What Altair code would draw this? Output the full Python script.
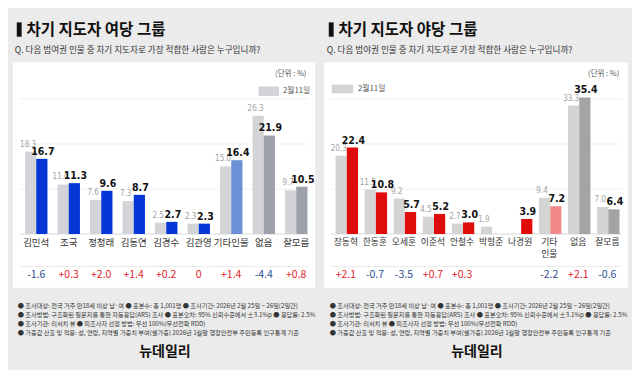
import altair as alt
import pandas as pd

FONT = "Noto Sans CJK KR"
NUMFONT = "'Liberation Sans Narrow', 'Arial Narrow', 'DejaVu Sans Condensed', Roboto"
SX = 624 / 640
SY = 362 / 378

# ---------------- data ----------------
left_title = "차기 지도자 여당 그룹"
left_question = "Q. 다음 범여권 인물 중 차기 지도자로 가장 적합한 사람은 누구입니까?"
left_cats = ["김민석", "조국", "정청래", "김동연", "김경수", "김관영", "기타인물", "없음", "잘모름"]
left_labels = ["김민석", "조국", "정청래", "김동연", "김경수", "김관영", "기타인물", "없음", "잘모름"]
left_prev = [18.3, 11.0, 7.6, 7.3, 2.5, 2.3, 15.0, 26.3, 9.7]
left_cur = [16.7, 11.3, 9.6, 8.7, 2.7, 2.3, 16.4, 21.9, 10.5]
left_change = ["-1.6", "+0.3", "+2.0", "+1.4", "+0.2", "0", "+1.4", "-4.4", "+0.8"]
left_group = ["main", "main", "main", "main", "main", "main", "etc", "none", "none"]

right_title = "차기 지도자 야당 그룹"
right_question = "Q. 다음 범야권 인물 중 차기 지도자로 가장 적합한 사람은 누구입니까?"
right_cats = ["장동혁", "한동훈", "오세훈", "이준석", "안철수", "박형준", "나경원", "기타인물", "없음", "잘모름"]
right_labels = ["장동혁", "한동훈", "오세훈", "이준석", "안철수", "박형준", "나경원", "기타\n인물", "없음", "잘모름"]
right_prev = [20.3, 11.5, 9.2, 4.5, 2.7, 1.9, None, 9.4, 33.3, 7.0]
right_cur = [22.4, 10.8, 5.7, 5.2, 3.0, None, 3.9, 7.2, 35.4, 6.4]
right_change = ["+2.1", "-0.7", "-3.5", "+0.7", "+0.3", None, None, "-2.2", "+2.1", "-0.6"]
right_group = ["main", "main", "main", "main", "main", "main", "main", "etc", "none", "none"]

left_grid = [10, 20, 30]
right_grid = [35 / 3, 70 / 3, 35]

legend_label = "2월11일"
unit_label = "(단위 : %)"
notes = [
    "● 조사대상: 전국 거주 만18세 이상 남·여 ● 표본수: 총 1,001명 ● 조사기간: 2026년 2월 25일 ~ 26일(2일간)",
    "● 조사방법: 구조화된 질문지를 통한 자동응답(ARS) 조사 ● 표본오차: 95% 신뢰수준에서 ±3.1%p ● 응답률: 2.5%",
    "● 조사기관: 리서치 뷰 ● 피조사자 선정 방법: 무선 100%(무선전화 RDD)",
    "● 가중값 산출 및 적용: 성, 연령, 지역별 가중치 부여(셀가중) 2026년 1월말 행정안전부 주민등록 인구통계 기준",
]
logo = "뉴데일리"


def X(x):
    return x * SX


def Y(y):
    return y * SY


one = pd.DataFrame({"a": [0]})


def panel(title, question, cats, labels, prev, cur, change, group, grid,
          ymax, xr, pad_inner, colors, legend_box, legend_text_x, card, label_size):
    rows = []
    for c, v in zip(cats, prev):
        if v is not None:
            rows.append({"cat": c, "series": "prev", "value": v, "grp": "prev"})
    for c, v, g in zip(cats, cur, group):
        if v is not None:
            rows.append({"cat": c, "series": "cur", "value": v, "grp": g})
    bars_df = pd.DataFrame(rows)

    xscale = alt.Scale(domain=cats, range=[X(xr[0]), X(xr[1])],
                       paddingInner=pad_inner, paddingOuter=pad_inner / 2)
    xenc = alt.X("cat:N", scale=xscale, axis=None)
    xoff = alt.XOffset("series:N", scale=alt.Scale(domain=["prev", "cur"], paddingInner=0, paddingOuter=0))
    yscale = alt.Scale(domain=[0, ymax], range=[Y(236), Y(95)], nice=False, zero=True)

    layers = []
    # white card
    layers.append(alt.Chart(one).mark_rect(color="white").encode(
        x=alt.value(X(card[0])), x2=alt.value(X(card[1])),
        y=alt.value(Y(57)), y2=alt.value(Y(292))))
    # grid
    layers.append(alt.Chart(pd.DataFrame({"g": grid})).mark_rule(color="#ececec", strokeWidth=0.8).encode(
        y=alt.Y("g:Q", scale=yscale, axis=None),
        x=alt.value(X(card[0] + 7)), x2=alt.value(X(card[1] - 7))))
    # baseline
    layers.append(alt.Chart(pd.DataFrame({"g": [0]})).mark_rule(color="#cfcfcf", strokeWidth=0.8).encode(
        y=alt.Y("g:Q", scale=yscale, axis=None),
        x=alt.value(X(card[0] + 7)), x2=alt.value(X(card[1] - 7))))
    # bars
    layers.append(alt.Chart(bars_df).mark_bar().encode(
        x=xenc, xOffset=xoff,
        y=alt.Y("value:Q", scale=yscale, axis=None),
        color=alt.Color("grp:N", scale=alt.Scale(domain=["prev", "main", "etc", "none"], range=colors), legend=None)))
    # prev labels
    layers.append(alt.Chart(bars_df).transform_filter(alt.datum.series == "prev").mark_text(
        baseline="bottom", dy=-3, dx=-2.5, fontSize=8, color="#a3a3a3", font=NUMFONT).encode(
        x=xenc, xOffset=xoff, y=alt.Y("value:Q", scale=yscale, axis=None),
        text=alt.Text("value:Q", format=".1f")))
    # current labels
    layers.append(alt.Chart(bars_df).transform_filter(alt.datum.series == "cur").mark_text(
        baseline="bottom", dy=-2, dx=1, fontSize=10.5, fontWeight="bold", color="#111", font=NUMFONT).encode(
        x=xenc, xOffset=xoff, y=alt.Y("value:Q", scale=yscale, axis=None),
        text=alt.Text("value:Q", format=".1f")))
    # category labels
    layers.append(alt.Chart(pd.DataFrame({"cat": cats, "label": labels})).mark_text(
        baseline="top", fontSize=label_size, color="#333", font=FONT, lineBreak="\n", lineHeight=12).encode(
        x=xenc, y=alt.value(Y(240.5)), text="label:N"))
    # divider
    layers.append(alt.Chart(one).mark_rule(color="#e6e6e6", strokeWidth=0.8).encode(
        x=alt.value(X(card[0] + 7)), x2=alt.value(X(card[1] - 7)), y=alt.value(Y(270))))
    # change row
    ch = [(c, v, "neg" if v.startswith("-") else "pos") for c, v in zip(cats, change) if v is not None]
    ch_df = pd.DataFrame(ch, columns=["cat", "chg", "sign"])
    layers.append(alt.Chart(ch_df).mark_text(fontSize=10.5, font=FONT, baseline="middle").encode(
        x=xenc, y=alt.value(Y(279)), text="chg:N",
        color=alt.Color("sign:N", scale=alt.Scale(domain=["pos", "neg"], range=["#e3242b", "#2e4f93"]), legend=None)))
    # title
    layers.append(alt.Chart(one).mark_rect(color="#111").encode(
        x=alt.value(X(9)), x2=alt.value(X(14)), y=alt.value(Y(15)), y2=alt.value(Y(30))))
    layers.append(alt.Chart(one).mark_text(align="left", baseline="middle", fontSize=15.5, fontWeight="bold",
                                          color="#111", font=FONT).encode(
        x=alt.value(X(19)), y=alt.value(Y(23)), text=alt.value(title)))
    layers.append(alt.Chart(one).mark_text(align="left", baseline="middle", fontSize=8.6,
                                          color="#333", font=FONT).encode(
        x=alt.value(X(7)), y=alt.value(Y(43.5)), text=alt.value(question)))
    # unit + legend
    layers.append(alt.Chart(one).mark_text(align="right", baseline="middle", fontSize=7.5,
                                          color="#555", font=FONT).encode(
        x=alt.value(X(card[1] - 9)), y=alt.value(Y(69)), text=alt.value(unit_label)))
    layers.append(alt.Chart(one).mark_rect(color=colors[0]).encode(
        x=alt.value(X(legend_box[0])), x2=alt.value(X(legend_box[1])),
        y=alt.value(Y(legend_box[2])), y2=alt.value(Y(legend_box[3]))))
    layers.append(alt.Chart(one).mark_text(align="left", baseline="middle", fontSize=7.8,
                                          color="#555", font=FONT).encode(
        x=alt.value(X(legend_text_x)), y=alt.value(Y((legend_box[2] + legend_box[3]) / 2)),
        text=alt.value(legend_label)))
    # notes
    for i, line in enumerate(notes):
        layers.append(alt.Chart(one).mark_text(align="left", baseline="middle", fontSize=6.2,
                                              color="#333", font=FONT).encode(
            x=alt.value(X(10)), y=alt.value(Y(311 + i * 9.3)), text=alt.value(line)))
    # logo
    layers.append(alt.Chart(one).mark_text(align="center", baseline="middle", fontSize=14, fontWeight="bold",
                                          color="#111", font=FONT).encode(
        x=alt.value(X(161)), y=alt.value(Y(359)), text=alt.value(logo)))

    return alt.layer(*layers).resolve_scale(color="independent").properties(width=312, height=362)


left = panel(left_title, left_question, left_cats, left_labels, left_prev, left_cur, left_change,
             left_group, left_grid, 30, (12.3, 312.3), 0.31,
             ["#d2d4d7", "#0637d6", "#6e90d6", "#9da2aa"],
             (257, 278, 82, 92), 282, (5, 315), 9.5)
right = panel(right_title, right_question, right_cats, right_labels, right_prev, right_cur, right_change,
              right_group, right_grid, 35, (11.6, 309.6), 0.295,
              ["#d4d4d4", "#e00b0b", "#f28a8a", "#a4a4a7"],
              (12, 34, 80, 89), 39, (4, 316), 8.8)

chart = alt.hconcat(left, right, spacing=0).properties(
    background="#ebebeb", padding=0
).configure_view(stroke=None)

chart.save("out.html", embed_options={"renderer": "svg", "actions": False})
